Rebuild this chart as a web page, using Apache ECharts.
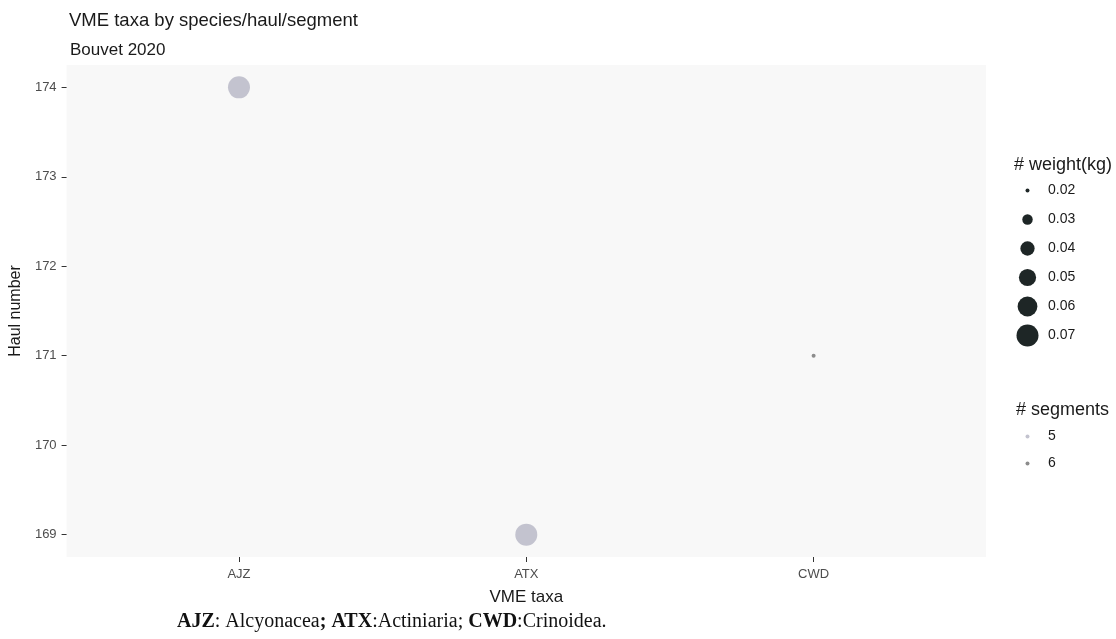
<!DOCTYPE html>
<html>
<head>
<meta charset="utf-8">
<script src="https://cdn.jsdelivr.net/npm/echarts@6/dist/echarts.min.js"></script>
<style>
  html, body { margin: 0; padding: 0; background: #ffffff; }
  #chart { width: 1116px; height: 639px; }
</style>
</head>
<body>
<div id="chart"></div>
<script>
// VME taxa recorded per haul, sized by catch weight and shaded by segment count
const taxa = ['AJZ', 'ATX', 'CWD'];
const hauls = [174, 169, 171];
const weights = [0.07, 0.07, 0.02];
const segments = [5, 5, 6];

// Axis ticks
const haulTicks = [169, 170, 171, 172, 173, 174];

// Legend entries
const weightBreaks = [0.02, 0.03, 0.04, 0.05, 0.06, 0.07];
const segmentBreaks = [5, 6];

const segmentColor = { 5: '#c3c3cf', 6: '#8c8c8c' };

// Area-proportional point size (diameter in px)
function sizeOf(w) {
  const d2 = 16 + (w - 0.02) * 9360;
  return Math.sqrt(Math.max(d2, 4));
}

// Discrete taxa are placed at positions 1..n on a padded value scale
const taxaPos = taxa.map((t, i) => i + 1);

const pointData = taxa.map((t, i) => ({
  value: [taxaPos[i], hauls[i]],
  symbolSize: sizeOf(weights[i]),
  itemStyle: { color: segmentColor[segments[i]], opacity: 1 }
}));

const chart = echarts.init(document.getElementById('chart'));

const SANS = 'Liberation Sans, Arial, sans-serif';
const tickFont = { color: '#4d4d4d', fontSize: 13, fontFamily: SANS };

chart.setOption({
  animation: false,
  backgroundColor: '#ffffff',
  title: [
    { text: 'VME taxa by species/haul/segment', left: 64, top: 6,
      textStyle: { fontSize: 18.5, fontWeight: 'normal', color: '#1a1a1a', fontFamily: SANS } },
    { text: 'Bouvet 2020', left: 65, top: 37,
      textStyle: { fontSize: 17, fontWeight: 'normal', color: '#1a1a1a', fontFamily: SANS } },
    { text: '# weight(kg)', left: 1009, top: 151,
      textStyle: { fontSize: 18, fontWeight: 'normal', color: '#1a1a1a', fontFamily: SANS } },
    { text: '# segments', left: 1011, top: 396,
      textStyle: { fontSize: 18, fontWeight: 'normal', color: '#1a1a1a', fontFamily: SANS } }
  ],
  grid: [
    { left: 66, top: 65, width: 920, height: 492, show: true,
      backgroundColor: '#f8f8f8', borderWidth: 0 },
    // legend key: weight
    { left: 1014, top: 176, width: 30, height: 174, show: false },
    // legend key: segments
    { left: 1014, top: 423, width: 30, height: 54, show: false }
  ],
  xAxis: [
    { type: 'value', gridIndex: 0, min: 0.4, max: 3.6,
      name: 'VME taxa', nameLocation: 'middle', nameGap: 32,
      nameTextStyle: { fontSize: 17, color: '#1a1a1a', fontFamily: SANS },
      axisLine: { show: false },
      axisTick: { show: true, length: 5, customValues: taxaPos, lineStyle: { color: '#333' } },
      axisLabel: Object.assign({ margin: 11, customValues: taxaPos,
        formatter: v => taxa[Math.round(v) - 1] || '' }, tickFont),
      splitLine: { show: false } },
    { type: 'value', gridIndex: 1, show: false, min: 0, max: 1 },
    { type: 'value', gridIndex: 2, show: false, min: 0, max: 1 }
  ],
  yAxis: [
    { type: 'value', gridIndex: 0, min: 168.75, max: 174.25,
      name: 'Haul number', nameLocation: 'middle', nameGap: 39, nameRotate: 90,
      nameTextStyle: { fontSize: 16, color: '#1a1a1a', fontFamily: SANS },
      axisLine: { show: false },
      axisTick: { show: true, length: 5, customValues: haulTicks, lineStyle: { color: '#333' } },
      axisLabel: Object.assign({ margin: 10, customValues: haulTicks,
        formatter: v => String(v) }, tickFont),
      splitLine: { show: false } },
    { type: 'category', gridIndex: 1, inverse: true, show: true,
      data: weightBreaks.map(String),
      axisLine: { show: false }, axisTick: { show: false }, splitLine: { show: false },
      position: 'right',
      axisLabel: { margin: 4, color: '#1a1a1a', fontSize: 14, fontFamily: SANS, align: 'left' } },
    { type: 'category', gridIndex: 2, inverse: true, show: true,
      data: segmentBreaks.map(String),
      axisLine: { show: false }, axisTick: { show: false }, splitLine: { show: false },
      position: 'right',
      axisLabel: { margin: 4, color: '#1a1a1a', fontSize: 14, fontFamily: SANS, align: 'left' } }
  ],
  series: [
    { type: 'scatter', xAxisIndex: 0, yAxisIndex: 0, data: pointData },
    { type: 'scatter', xAxisIndex: 1, yAxisIndex: 1,
      data: weightBreaks.map(w => ({ value: [0.45, String(w)], symbolSize: sizeOf(w) })),
      itemStyle: { color: '#1e2626', opacity: 1 } },
    { type: 'scatter', xAxisIndex: 2, yAxisIndex: 2,
      data: segmentBreaks.map(s => ({ value: [0.45, String(s)], symbolSize: 4,
        itemStyle: { color: segmentColor[s], opacity: 1 } })) }
  ],
  graphic: [
    { type: 'text', left: 177, top: 612,
      style: {
        text: '{b|AJZ}: Alcyonacea{b|;} {b|ATX}:Actiniaria; {b|CWD}:Crinoidea.',
        font: '20px "Liberation Serif", "Times New Roman", serif',
        fill: '#111',
        rich: { b: { fontWeight: 'bold', fontSize: 20, fontFamily: 'Liberation Serif', fill: '#111' } }
      } }
  ]
});
</script>
</body>
</html>
